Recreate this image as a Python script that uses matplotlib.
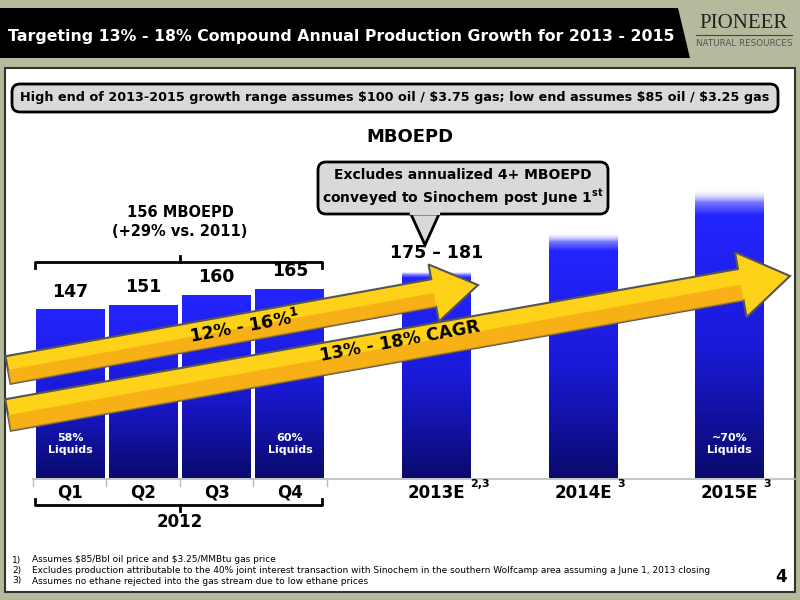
import numpy as np
import matplotlib
matplotlib.use("Agg")
import matplotlib.pyplot as plt
from matplotlib.patches import Rectangle, Polygon, FancyBboxPatch
from matplotlib.colors import LinearSegmentedColormap

categories = ["Q1", "Q2", "Q3", "Q4", "2013E", "2014E", "2015E"]
positions = [0, 1, 2, 3, 5, 7, 9]
low_values = [147, 151, 160, 165, 175, 199, 230]
high_values = [147, 151, 160, 165, 181, 215, 252]
value_labels = ["147", "151", "160", "165", "175 – 181", "", ""]
superscripts = ["", "", "", "", "2,3", "3", "3"]
liquids = {0: "58%\nLiquids", 3: "60%\nLiquids", 6: "~70%\nLiquids"}

W, H = 800, 600
fig = plt.figure(figsize=(8, 6), dpi=100)
fig.patch.set_facecolor("#b7b99c")

bg = fig.add_axes([0, 0, 1, 1])
bg.set_xlim(0, W); bg.set_ylim(H, 0); bg.axis("off")
bg.add_patch(Rectangle((5, 68), 790, 524, facecolor="white", edgecolor="#333333", lw=1.5, zorder=0))

px_per_unit = 1.143
ax_top_px, base_px = 60, 478
ax = fig.add_axes([0, (H - base_px) / H, 1, (base_px - ax_top_px) / H])
ax.axis("off")
ax.patch.set_alpha(0)

bw = 0.94
grad = np.linspace(0, 1, 256).reshape(-1, 1)
cmap = LinearSegmentedColormap.from_list("b", ["#0a0a6e", "#1a1ad8", "#2424ff"])
fade = LinearSegmentedColormap.from_list("f", [(0.14, 0.14, 1, 1), (0.14, 0.14, 1, 0.6), (1, 1, 1, 0)])
for p, lo, hi in zip(positions, low_values, high_values):
    ax.imshow(grad, extent=[p - bw / 2, p + bw / 2, 0, lo], origin="lower", cmap=cmap,
              aspect="auto", zorder=2)
    if hi > lo:
        ax.imshow(grad, extent=[p - bw / 2, p + bw / 2, lo, hi], origin="lower", cmap=fade,
                  aspect="auto", zorder=2)
for p, lab, lo in zip(positions, value_labels, high_values):
    if lab:
        ax.text(p, lo + 8, lab, ha="center", va="bottom", fontsize=12.5, fontweight="bold")
for i, t in liquids.items():
    ax.text(positions[i], 30, t, ha="center", va="center", fontsize=8, color="white", fontweight="bold", zorder=3)
ax.set_xlim(-70 / 73.3, (W - 70) / 73.3)
ax.set_ylim(0, (base_px - ax_top_px) / px_per_unit)

ov = fig.add_axes([0, 0, 1, 1])
ov.set_xlim(0, W); ov.set_ylim(H, 0); ov.axis("off")
ov.patch.set_alpha(0)
ov.add_patch(Polygon([(0, 8), (678, 8), (690, 58), (0, 58)], closed=True, facecolor="black", zorder=1))
ov.text(8, 36, "Targeting 13% - 18% Compound Annual Production Growth for 2013 - 2015",
        color="white", fontsize=11.3, fontweight="bold", va="center", zorder=2)
ov.text(744, 23, "PIONEER", fontsize=15, family="Liberation Serif", color="#222222",
        ha="center", va="center")
ov.plot([696, 792], [35, 35], color="#444444", lw=0.8)
ov.text(744, 43, "NATURAL RESOURCES", fontsize=6.3, color="#555555", ha="center", va="center")
ov.add_patch(FancyBboxPatch((12, 84), 766, 28, boxstyle="round,pad=0,rounding_size=8",
             facecolor="#d9d9d9", edgecolor="black", lw=2, zorder=2))
ov.text(395, 98, r"High end of 2013-2015 growth range assumes \$100 oil / \$3.75 gas; low end assumes \$85 oil / \$3.25 gas",
        fontsize=9.2, fontweight="bold", ha="center", va="center", zorder=3)
ov.text(410, 137, "MBOEPD", fontsize=13, fontweight="bold", ha="center", va="center")

ov.plot([33, 795], [479, 479], color="#bbbbbb", lw=1.2, zorder=1)
for x in [33, 106, 180, 253, 327]:
    ov.plot([x, x], [479, 486], color="#bbbbbb", lw=1)
xpx = [70 + 73.3 * p for p in positions]
for x, c, s in zip(xpx, categories, superscripts):
    ov.text(x, 493, c, ha="center", va="center", fontsize=12, fontweight="bold")
    if s:
        ov.text(x + 30 + (4 if len(c) > 4 else 0), 484, s, ha="left", va="center", fontsize=8, fontweight="bold")

def bracket(y, up):
    d = 6 if up else -6
    ov.plot([35, 35, 322, 322], [y + d, y, y, y + d], color="black", lw=2)
    ov.plot([180, 180], [y, y - d], color="black", lw=2)
bracket(262, True)
bracket(505, False)
ov.text(180, 222, "156 MBOEPD\n(+29% vs. 2011)", ha="center", va="center", fontsize=10.5,
        fontweight="bold", linespacing=1.3)
ov.text(180, 522, "2012", ha="center", va="center", fontsize=12, fontweight="bold")

ov.add_patch(FancyBboxPatch((318, 162), 290, 52, boxstyle="round,pad=0,rounding_size=8",
             facecolor="#d9d9d9", edgecolor="black", lw=2, zorder=4))
ov.add_patch(Polygon([(410, 212), (440, 212), (425, 245)], closed=True, facecolor="#d9d9d9",
             edgecolor="black", lw=2, zorder=3))
ov.plot([412, 438], [213, 213], color="#d9d9d9", lw=3, zorder=5)
ov.text(463, 188, "Excludes annualized 4+ MBOEPD\nconveyed to Sinochem post June 1$^{\\mathbf{st}}$",
        ha="center", va="center", fontsize=10, fontweight="bold", zorder=6, linespacing=1.3)

def arrow(x0, y0, x1, y1, bw_, hw, hl):
    v = np.array([x1 - x0, y1 - y0], float); L = np.hypot(*v); u = v / L; n = np.array([-u[1], u[0]])
    s = np.array([x0, y0]); e = np.array([x1, y1]); b = e - u * hl
    pts = [s + n * bw_ / 2, b + n * bw_ / 2, b + n * hw / 2, e, b - n * hw / 2, b - n * bw_ / 2, s - n * bw_ / 2]
    ov.add_patch(Polygon(pts, closed=True, facecolor="#ffd21a", edgecolor="#555555", lw=1.5, zorder=7))
    ov.add_patch(Polygon([s + n * bw_ / 2, b + n * bw_ / 2, b, s], closed=True, facecolor="#f4a416",
                 edgecolor="none", zorder=7, alpha=0.7))
arrow(8, 370, 478, 285, 28, 58, 45)
arrow(8, 415, 790, 276, 32, 66, 50)
ov.text(245, 327, "12% - 16%$^{\\mathbf{1}}$", rotation=10.5, ha="center", va="center", fontsize=12.5,
        fontweight="bold", color="black", zorder=8)
ov.text(400, 341, "13% - 18% CAGR", rotation=10.5, ha="center", va="center", fontsize=12.5,
        fontweight="bold", color="black", zorder=8)

notes = [r"Assumes \$85/Bbl oil price and \$3.25/MMBtu gas price",
         "Excludes production attributable to the 40% joint interest transaction with Sinochem in the southern Wolfcamp area assuming a June 1, 2013 closing",
         "Assumes no ethane rejected into the gas stream due to low ethane prices"]
for i, n in enumerate(notes):
    ov.text(12, 560 + i * 10.5, f"{i+1})", fontsize=6.5, va="center")
    ov.text(32, 560 + i * 10.5, n, fontsize=6.5, va="center")
ov.text(787, 577, "4", fontsize=12, fontweight="bold", ha="right", va="center")

fig.savefig("out.png", dpi=100, facecolor=fig.get_facecolor())
